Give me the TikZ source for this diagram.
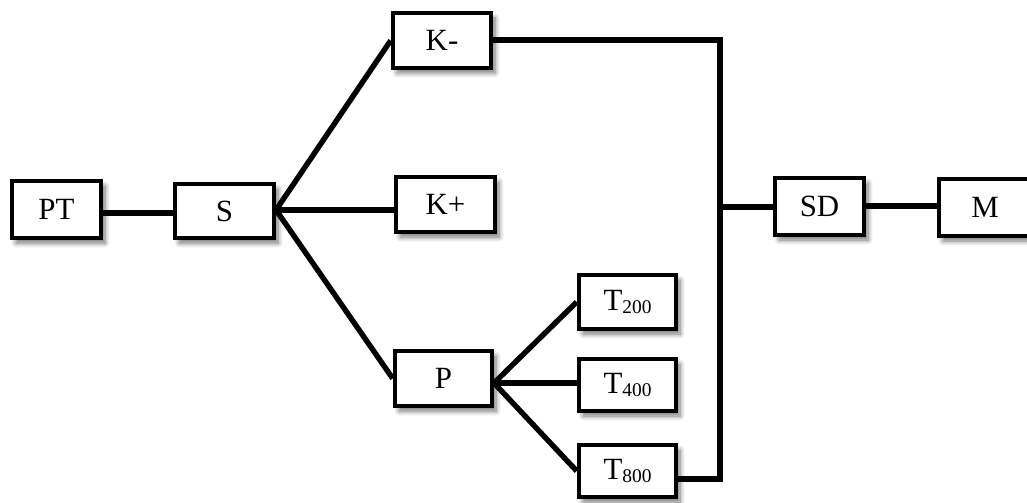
\documentclass[tikz,border=0pt]{standalone}
\usepackage{fontspec}
\setmainfont{Liberation Serif}
\usetikzlibrary{shadows.blur}
\newcommand{\sub}[1]{\raisebox{-2.5bp}{\fontsize{19.5}{22}\selectfont #1}}
\begin{document}
\begin{tikzpicture}[x=1bp,y=-1bp,
  box/.style={draw, line width=4.6bp, fill=white, inner sep=0pt,
    font=\fontsize{31}{36}\selectfont,
    blur shadow={shadow xshift=4bp, shadow yshift=-5bp, shadow blur radius=5bp,
      shadow blur steps=8, shadow opacity=55}},
  link/.style={line width=5.4bp}]
\useasboundingbox (0,0) rectangle (1027,503);

% blocks
\node[box, minimum width=89bp, minimum height=57bp] (PT) at (56.5,209.5) {PT};
\node[box, minimum width=99bp, minimum height=54bp] (S) at (224.5,211) {S};
\node[box, minimum width=98bp, minimum height=55bp] (Km) at (442,40.5) {K-};
\node[box, minimum width=99bp, minimum height=55bp] (Kp) at (445.5,204.5) {K+};
\node[box, minimum width=97bp, minimum height=55bp] (P) at (443.5,378.5) {P};
\node[box, minimum width=97bp, minimum height=54bp] (T2) at (627.5,302) {T\sub{200}};
\node[box, minimum width=97bp, minimum height=52bp] (T4) at (627.5,385) {T\sub{400}};
\node[box, minimum width=97bp, minimum height=52bp] (T8) at (627.5,471) {T\sub{800}};
\node[box, minimum width=89bp, minimum height=57bp] (SD) at (819.5,206.5) {SD};
\node[box, minimum width=92bp, minimum height=57bp] (M) at (985,207.5) {M};

% fan-out points and collecting bus
\coordinate (sf) at (276,210);
\coordinate (pf) at (494,383);
\coordinate (jt) at (720,40);
\coordinate (jb) at (720,479);
\coordinate (jm) at (718,207);

% connectors
\draw[link] (PT.east |- 0,213) -- (S.west |- 0,213);
\draw[link] (sf) -- (Km.west);
\draw[link] (sf) -- (Kp.west |- sf);
\draw[link] (sf) -- (P.west);
\draw[link] (pf) -- (T2.west);
\draw[link] (pf) -- (T4.west |- pf);
\draw[link] (pf) -- (T8.west);
\draw[link, line cap=rect] (Km.east |- jt) -- (jt) -- (jb);
\draw[link] (T8.east |- jb) -- (jb);
\draw[link] (jm) -- (SD.west |- jm);
\draw[link] (SD.east |- 0,206) -- (M.west |- 0,206);
\end{tikzpicture}
\end{document}
